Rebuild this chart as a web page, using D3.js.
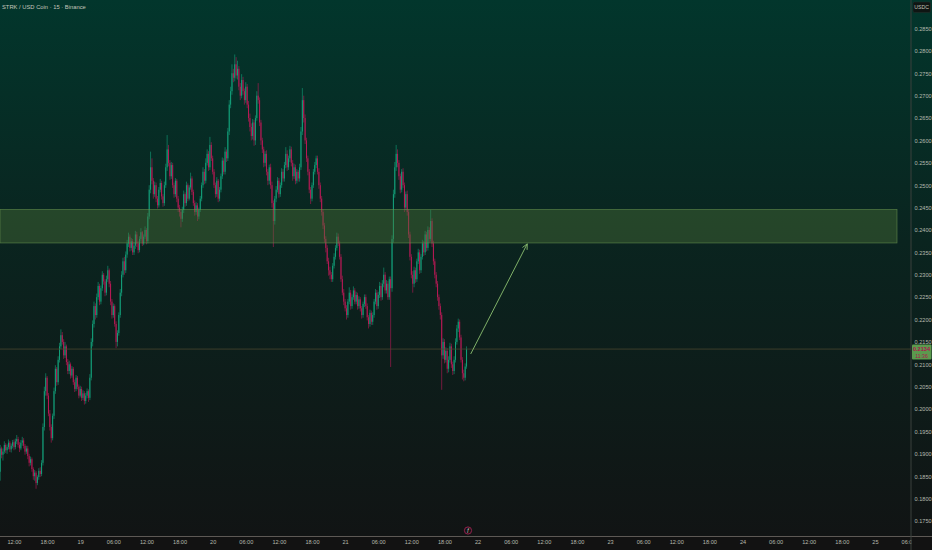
<!DOCTYPE html>
<html>
<head>
  <meta charset="UTF-8">
  <title>STRK / USD Coin</title>
  <style>
    html, body { margin: 0; padding: 0; background: #121212; }
    svg { display: block; }
    text { font-family: "Liberation Sans", Roboto, sans-serif; }
  </style>
</head>
<body>
<script src="https://d3js.org/d3.v7.min.js"></script>
<script>
// 15 minute candles, price in units of 0.0001 USDC
const firstOpen = 1860;
const closes = [
  1912, 1898, 1905, 1920, 1908, 1915, 1925, 1910, 1918, 1926,
  1915, 1928, 1933, 1920, 1912, 1925, 1930, 1918, 1905, 1912,
  1895, 1880, 1888, 1866, 1850, 1858, 1835, 1848, 1862, 1855,
  1880, 1960, 2040, 2070, 2030, 1990, 1960, 1935, 1985, 2040,
  2090, 2060, 2110, 2140, 2165, 2150, 2120, 2140, 2105, 2085,
  2100, 2075, 2090, 2060, 2045, 2070, 2050, 2030, 2045, 2025,
  2035, 2018, 2030, 2040, 2025, 2070, 2150, 2190, 2230, 2210,
  2250, 2275, 2240, 2270, 2300, 2285, 2260, 2290, 2310, 2280,
  2240, 2210, 2230, 2190, 2150, 2170, 2210, 2260, 2300, 2330,
  2310, 2345, 2370, 2385, 2360, 2375, 2350, 2365, 2390, 2370,
  2355, 2380, 2395, 2370, 2385, 2400, 2375, 2430, 2490, 2540,
  2510, 2480, 2500, 2470, 2455, 2490, 2505, 2475, 2460, 2500,
  2540, 2580, 2550, 2520, 2545, 2500, 2480, 2510, 2470, 2450,
  2440, 2425, 2445, 2480, 2460, 2500, 2470, 2495, 2515, 2485,
  2460, 2440, 2455, 2430, 2445, 2470, 2500, 2530, 2510, 2550,
  2570, 2540, 2590, 2560, 2530, 2500, 2480, 2510, 2470, 2490,
  2520, 2555, 2530, 2575, 2560, 2620, 2680, 2710, 2750, 2740,
  2770, 2745, 2760, 2720, 2700, 2735, 2710, 2690, 2720, 2680,
  2650, 2630, 2610, 2640, 2600, 2650, 2700, 2690, 2640, 2600,
  2580, 2550, 2570, 2530, 2510, 2540, 2500, 2460, 2420, 2470,
  2490, 2510, 2480, 2500, 2530, 2515, 2545, 2570, 2540, 2560,
  2580, 2550, 2520, 2540, 2510, 2530, 2515, 2540, 2620, 2690,
  2650, 2600, 2560, 2530, 2490, 2470, 2500, 2530, 2545, 2560,
  2530, 2500, 2470, 2440, 2410, 2380, 2360, 2330, 2310, 2300,
  2290, 2320, 2340, 2360, 2385, 2370, 2340, 2290, 2260, 2240,
  2225, 2210, 2240, 2260, 2230, 2250, 2265, 2240, 2255, 2230,
  2245, 2225, 2210, 2235, 2250, 2230, 2205, 2190, 2215, 2195,
  2210, 2240, 2260, 2230, 2255, 2275, 2250, 2280, 2300, 2265,
  2280, 2250, 2290, 2270, 2380, 2480, 2540, 2570, 2550, 2520,
  2490, 2530, 2500, 2450, 2480, 2440, 2390, 2340, 2300, 2280,
  2310, 2290, 2330, 2350, 2310, 2340, 2370, 2350, 2390, 2360,
  2400, 2380, 2420, 2370, 2330, 2300, 2280, 2250, 2230, 2210,
  2120, 2150, 2110, 2130, 2090, 2110, 2140, 2100, 2085, 2110,
  2150, 2180, 2195, 2160, 2110, 2080, 2070, 2095, 2134
];
const highs = [
  1920, 1916, 1912, 1928, 1924, 1921, 1932, 1929, 1923, 1931,
  1932, 1934, 1942, 1938, 1926, 1931, 1938, 1935, 1922, 1918,
  1918, 1900, 1894, 1892, 1870, 1864, 1862, 1852, 1868, 1870,
  1886, 1968, 2050, 2080, 2074, 2036, 1998, 1966, 1990, 2048,
  2098, 2094, 2118, 2148, 2178, 2172, 2156, 2150, 2144, 2112,
  2108, 2104, 2096, 2094, 2066, 2076, 2074, 2055, 2052, 2050,
  2042, 2040, 2036, 2046, 2044, 2078, 2158, 2198, 2240, 2236,
  2258, 2284, 2280, 2276, 2308, 2304, 2290, 2298, 2320, 2314,
  2286, 2246, 2236, 2234, 2196, 2176, 2216, 2268, 2308, 2338,
  2340, 2352, 2378, 2394, 2390, 2382, 2380, 2372, 2398, 2396,
  2376, 2386, 2404, 2398, 2390, 2408, 2404, 2438, 2500, 2575,
  2560, 2516, 2508, 2506, 2476, 2496, 2514, 2510, 2480, 2508,
  2548, 2612, 2590, 2556, 2552, 2550, 2506, 2516, 2514, 2476,
  2456, 2446, 2452, 2488, 2484, 2508, 2504, 2500, 2528, 2520,
  2490, 2466, 2462, 2460, 2450, 2476, 2506, 2540, 2536, 2560,
  2580, 2576, 2608, 2596, 2566, 2536, 2506, 2518, 2514, 2496,
  2526, 2562, 2560, 2585, 2580, 2628, 2690, 2720, 2770, 2760,
  2792, 2786, 2778, 2766, 2728, 2748, 2742, 2716, 2730, 2726,
  2688, 2660, 2638, 2648, 2646, 2656, 2710, 2728, 2696, 2646,
  2606, 2586, 2576, 2578, 2536, 2546, 2548, 2508, 2466, 2476,
  2498, 2518, 2516, 2506, 2538, 2536, 2552, 2585, 2578, 2566,
  2588, 2586, 2556, 2548, 2546, 2536, 2534, 2548, 2630, 2717,
  2700, 2658, 2606, 2566, 2536, 2496, 2506, 2536, 2552, 2566,
  2566, 2538, 2506, 2476, 2446, 2416, 2386, 2366, 2338, 2318,
  2306, 2326, 2348, 2366, 2394, 2392, 2376, 2346, 2298, 2268,
  2246, 2232, 2246, 2272, 2266, 2256, 2274, 2270, 2262, 2260,
  2252, 2250, 2230, 2240, 2256, 2256, 2236, 2210, 2222, 2220,
  2216, 2246, 2268, 2266, 2262, 2284, 2282, 2288, 2316, 2306,
  2288, 2286, 2296, 2296, 2388, 2490, 2552, 2590, 2580, 2556,
  2526, 2536, 2538, 2506, 2486, 2488, 2446, 2396, 2346, 2308,
  2318, 2316, 2336, 2358, 2356, 2346, 2378, 2376, 2398, 2396,
  2408, 2406, 2445, 2426, 2376, 2336, 2306, 2286, 2256, 2236,
  2216, 2158, 2156, 2138, 2136, 2118, 2148, 2146, 2106, 2118,
  2158, 2188, 2202, 2200, 2166, 2116, 2088, 2102, 2140
];
const lows = [
  1840, 1890, 1885, 1900, 1902, 1900, 1910, 1904, 1903, 1912,
  1908, 1910, 1922, 1914, 1904, 1908, 1918, 1912, 1898, 1900,
  1888, 1872, 1874, 1860, 1842, 1840, 1822, 1830, 1842, 1848,
  1850, 1874, 1952, 2030, 2022, 1984, 1952, 1925, 1930, 1978,
  2034, 2052, 2054, 2104, 2134, 2144, 2112, 2114, 2098, 2078,
  2078, 2068, 2070, 2054, 2038, 2040, 2044, 2024, 2026, 2018,
  2020, 2010, 2012, 2024, 2016, 2020, 2064, 2140, 2182, 2200,
  2204, 2244, 2232, 2234, 2264, 2278, 2252, 2254, 2284, 2272,
  2232, 2202, 2204, 2184, 2136, 2140, 2164, 2204, 2252, 2294,
  2300, 2304, 2338, 2362, 2352, 2354, 2344, 2344, 2358, 2362,
  2348, 2350, 2374, 2364, 2366, 2380, 2368, 2370, 2424, 2482,
  2502, 2470, 2474, 2462, 2448, 2450, 2484, 2468, 2452, 2454,
  2494, 2532, 2542, 2512, 2514, 2494, 2472, 2474, 2462, 2440,
  2430, 2406, 2418, 2438, 2452, 2454, 2464, 2466, 2490, 2478,
  2454, 2432, 2434, 2420, 2424, 2440, 2464, 2494, 2502, 2504,
  2544, 2532, 2534, 2554, 2524, 2494, 2472, 2474, 2462, 2464,
  2484, 2514, 2524, 2524, 2552, 2554, 2612, 2672, 2702, 2730,
  2732, 2738, 2736, 2712, 2690, 2694, 2702, 2680, 2684, 2672,
  2642, 2620, 2600, 2602, 2588, 2590, 2644, 2682, 2632, 2590,
  2572, 2540, 2542, 2522, 2500, 2502, 2492, 2450, 2362, 2412,
  2462, 2484, 2472, 2474, 2494, 2508, 2508, 2538, 2532, 2534,
  2552, 2542, 2510, 2514, 2502, 2504, 2508, 2508, 2534, 2612,
  2640, 2592, 2552, 2522, 2482, 2458, 2464, 2494, 2524, 2538,
  2524, 2492, 2462, 2432, 2402, 2372, 2350, 2324, 2298, 2290,
  2284, 2284, 2314, 2334, 2354, 2364, 2334, 2284, 2254, 2232,
  2218, 2200, 2204, 2234, 2222, 2224, 2244, 2234, 2234, 2222,
  2224, 2218, 2202, 2204, 2228, 2224, 2198, 2180, 2184, 2188,
  2188, 2204, 2234, 2222, 2224, 2248, 2242, 2244, 2272, 2258,
  2258, 2244, 2244, 2094, 2262, 2372, 2472, 2532, 2540, 2512,
  2482, 2484, 2494, 2440, 2444, 2432, 2382, 2332, 2292, 2260,
  2272, 2282, 2284, 2324, 2302, 2304, 2334, 2342, 2344, 2352,
  2354, 2372, 2374, 2362, 2322, 2292, 2272, 2242, 2222, 2200,
  2043, 2112, 2102, 2104, 2080, 2082, 2104, 2092, 2076, 2078,
  2104, 2144, 2172, 2154, 2104, 2066, 2062, 2064, 2090
];
const firstBar = Date.UTC(2025, 2, 18, 9, 30);
const barMs = 15 * 60 * 1000;

const priceTicks = d3.range(1750, 2851, 50);   // 0.1750 .. 0.2850
const zone = [2371, 2446];                      // supply / demand box
const arrowFrom = { bar: 341, price: 2123 };
const arrowTo = { bar: 382, price: 2369 };
const title = "STRK / USD Coin \u00b7 15 \u00b7 Binance";
const countdown = "11:36";

const width = 932, height = 550;
const plotRight = 911, plotBottom = 536;

const svg = d3.select("body").append("svg")
  .attr("width", width).attr("height", height);

// background gradient
const defs = svg.append("defs");
const grad = defs.append("linearGradient").attr("id", "bg")
  .attr("x1", 0).attr("y1", 0).attr("x2", 0).attr("y2", 1);
grad.append("stop").attr("offset", "0%").attr("stop-color", "#02362c");
grad.append("stop").attr("offset", "45%").attr("stop-color", "#0a241f");
grad.append("stop").attr("offset", "100%").attr("stop-color", "#111414");
svg.append("rect").attr("width", width).attr("height", plotBottom).attr("fill", "url(#bg)");
svg.append("rect").attr("y", plotBottom).attr("width", width).attr("height", height - plotBottom).attr("fill", "#121212");

const x = d3.scaleUtc()
  .domain([Date.UTC(2025, 2, 18, 9, 28), Date.UTC(2025, 2, 25, 6, 32)])
  .range([0, plotRight]);
const y = d3.scaleLinear().domain([0.1750, 0.2850]).range([521, 28.5]);

const bars = closes.map((c, i) => ({
  t: new Date(firstBar + i * barMs),
  o: (i === 0 ? firstOpen : closes[i - 1]) / 1e4,
  c: c / 1e4,
  h: highs[i] / 1e4,
  l: lows[i] / 1e4
}));

const up = "#13a07a", down = "#b81a55";
const plot = svg.append("g");

// candles
const candle = plot.selectAll("g.candle").data(bars).enter().append("g")
  .attr("fill", d => d.c >= d.o ? up : down)
  .attr("stroke", d => d.c >= d.o ? up : down);
candle.append("line")
  .attr("x1", d => x(d.t)).attr("x2", d => x(d.t))
  .attr("y1", d => y(Math.max(d.h, d.o, d.c)))
  .attr("y2", d => y(Math.min(d.l, d.o, d.c)))
  .attr("stroke-width", 0.6);
candle.append("rect")
  .attr("x", d => x(d.t) - 0.5)
  .attr("width", 1)
  .attr("y", d => y(Math.max(d.o, d.c)))
  .attr("height", d => Math.max(0.6, Math.abs(y(d.o) - y(d.c))))
  .attr("stroke", "none");

// zone box
plot.append("rect")
  .attr("x", 0).attr("width", 897)
  .attr("y", y(zone[1] / 1e4))
  .attr("height", y(zone[0] / 1e4) - y(zone[1] / 1e4))
  .attr("fill", "#4d7338").attr("fill-opacity", 0.42)
  .attr("stroke", "#6f9a52").attr("stroke-opacity", 0.7).attr("stroke-width", 0.7);

// last price line
const last = bars[bars.length - 1];
plot.append("line")
  .attr("x1", 0).attr("x2", plotRight)
  .attr("y1", y(last.c)).attr("y2", y(last.c))
  .attr("stroke", "#4a4630").attr("stroke-width", 0.8);

// arrow
const ax1 = x(new Date(firstBar + arrowFrom.bar * barMs)), ay1 = y(arrowFrom.price / 1e4);
const ax2 = x(new Date(firstBar + arrowTo.bar * barMs)), ay2 = y(arrowTo.price / 1e4);
const ang = Math.atan2(ay2 - ay1, ax2 - ax1);
const head = 6;
plot.append("path")
  .attr("d", `M${ax1},${ay1}L${ax2},${ay2}` +
    `M${ax2 - head * Math.cos(ang - 0.45)},${ay2 - head * Math.sin(ang - 0.45)}L${ax2},${ay2}` +
    `L${ax2 - head * Math.cos(ang + 0.45)},${ay2 - head * Math.sin(ang + 0.45)}`)
  .attr("fill", "none").attr("stroke", "#7fb068").attr("stroke-width", 1);

// axes frame
svg.append("line").attr("x1", plotRight).attr("x2", plotRight).attr("y1", 0).attr("y2", plotBottom)
  .attr("stroke", "#3b403d").attr("stroke-width", 1);
svg.append("line").attr("x1", 0).attr("x2", width).attr("y1", plotBottom + 0.5).attr("y2", plotBottom + 0.5)
  .attr("stroke", "#5d5955").attr("stroke-width", 1);

// price axis
const yAxis = svg.append("g").attr("transform", `translate(${plotRight},0)`)
  .call(d3.axisRight(y).tickValues(priceTicks.map(v => v / 1e4)).tickFormat(d3.format(".4f")).tickSize(0).tickPadding(3.5));
yAxis.select(".domain").remove();
yAxis.selectAll("text").attr("font-size", 5.6).attr("fill", "#b6baae")
  .style("font-family", "'Liberation Sans', sans-serif");

// time axis
const timeFmt = d => d.getUTCHours() === 0 ? d3.utcFormat("%-d")(d) : d3.utcFormat("%H:%M")(d);
const xAxis = svg.append("g").attr("transform", `translate(0,${plotBottom})`)
  .call(d3.axisBottom(x).ticks(d3.utcHour.every(6)).tickFormat(timeFmt).tickSize(0).tickPadding(4.5));
xAxis.select(".domain").remove();
xAxis.selectAll("text").attr("font-size", 5.6).attr("fill", "#b6baae")
  .style("font-family", "'Liberation Sans', sans-serif");

// cover clipped part of time axis on the price scale side
svg.append("rect").attr("x", plotRight + 0.5).attr("y", plotBottom + 1).attr("width", width - plotRight).attr("height", height - plotBottom)
  .attr("fill", "#121212");
svg.append("line").attr("x1", plotRight).attr("x2", plotRight).attr("y1", plotBottom).attr("y2", height)
  .attr("stroke", "#3b403d").attr("stroke-width", 1);

// currency tag
svg.append("rect").attr("x", 913).attr("y", 2).attr("width", 17.5).attr("height", 10.5).attr("rx", 1.5)
  .attr("fill", "#0f1513").attr("stroke", "#26302c").attr("stroke-width", 0.5);
svg.append("text").attr("x", 921.7).attr("y", 9.3).attr("text-anchor", "middle")
  .attr("font-size", 5.2).attr("fill", "#c3c7bb").text("USDC");

// last price tag
const ly = y(last.c);
svg.append("rect").attr("x", plotRight + 1).attr("y", ly - 4.5).attr("width", 19.5).attr("height", 15).attr("rx", 1)
  .attr("fill", "#5b9a4e");
svg.append("text").attr("x", 921.5).attr("y", ly + 2).attr("text-anchor", "middle")
  .attr("font-size", 5.6).attr("fill", "#b0124f").attr("font-weight", "bold").text(d3.format(".4f")(last.c));
svg.append("text").attr("x", 921.5).attr("y", ly + 8.5).attr("text-anchor", "middle")
  .attr("font-size", 5.2).attr("fill", "#b0124f").text(countdown);

// title
svg.append("text").attr("x", 2).attr("y", 9.3)
  .attr("font-size", 5.8).attr("fill", "#c3c7bb").text(title);

// event marker
const ev = svg.append("g").attr("transform", "translate(468,530.5)");
ev.append("circle").attr("r", 3.6).attr("fill", "#141414").attr("stroke", "#b2245a").attr("stroke-width", 0.8);
ev.append("text").attr("y", 1.9).attr("text-anchor", "middle").attr("font-size", 5.2)
  .attr("font-style", "italic").attr("fill", "#d8d8d8").text("\u0192");
</script>
</body>
</html>
